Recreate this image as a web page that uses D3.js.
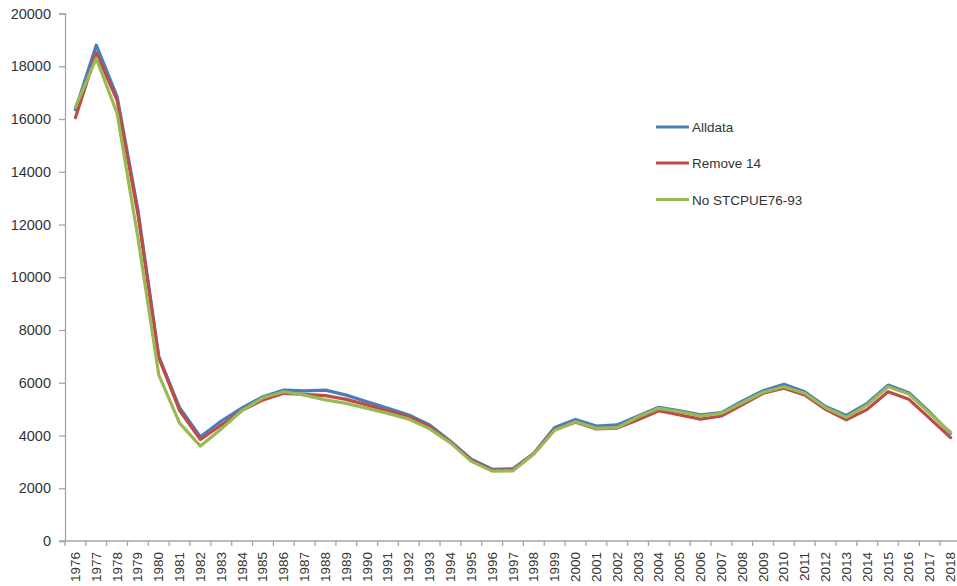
<!DOCTYPE html>
<html>
<head>
<meta charset="utf-8">
<script src="https://cdn.jsdelivr.net/npm/d3@7/dist/d3.min.js"></script>
<style>
  html, body { margin: 0; padding: 0; background: #fff; overflow: hidden; }
  svg { display: block; }
  text { font-family: "Liberation Sans", Arial, sans-serif; fill: #333; }
</style>
</head>
<body>
<svg id="chart" width="957" height="586"></svg>
<script>
// Years on the category axis
const years = d3.range(1976, 2019).map(String);

// Series values, one per year
const alldata = [16350, 18800, 16850, 12550, 7000, 5050, 3950, 4550, 5050, 5470, 5720,
  5690, 5720, 5530, 5280, 5030, 4780, 4400, 3780, 3100, 2720, 2740, 3330, 4300,
  4610, 4360, 4400, 4740, 5070, 4940, 4780, 4870, 5300, 5700, 5940, 5660, 5100,
  4760, 5220, 5910, 5620, 4880, 4080];

const remove14 = [16050, 18510, 16720, 12400, 6950, 4950, 3850, 4400, 4950, 5350, 5600,
  5560, 5510, 5370, 5160, 4930, 4710, 4330, 3750, 3050, 2680, 2700, 3310, 4230,
  4500, 4250, 4280, 4600, 4940, 4780, 4620, 4740, 5160, 5600, 5790, 5540, 4990,
  4590, 4990, 5660, 5370, 4650, 3920];

const noSTCPUE = [16450, 18300, 16220, 11500, 6300, 4470, 3600, 4250, 4950, 5430, 5660,
  5530, 5350, 5220, 5030, 4840, 4620, 4250, 3720, 3020, 2650, 2660, 3300, 4200,
  4520, 4270, 4300, 4700, 5030, 4900, 4740, 4840, 5240, 5640, 5850, 5600, 5050,
  4690, 5160, 5850, 5570, 4840, 4120];

const yTicks = d3.range(0, 20001, 2000);

const series = [
  { name: "Alldata", values: alldata, color: "#4a7ebb" },
  { name: "Remove 14", values: remove14, color: "#be4b48" },
  { name: "No STCPUE76-93", values: noSTCPUE, color: "#98b954" }
];

const svg = d3.select("#chart");
const axisColor = "#a6a6a6";

const x = d3.scaleBand().domain(years).range([65, 961]).padding(0);
const y = d3.scaleLinear().domain([0, 20000]).range([541, 13.5]);

// Y axis
const yAxis = svg.append("g").attr("transform", "translate(65,0)")
  .call(d3.axisLeft(y).tickValues(yTicks).tickSize(6).tickPadding(8).tickFormat(d3.format("d")));
yAxis.select(".domain").attr("stroke", axisColor).attr("stroke-width", 1.3);
yAxis.selectAll(".tick line").attr("stroke", axisColor).attr("stroke-width", 1.3);
yAxis.selectAll(".tick text").style("font-size", "14.5px").attr("fill", "#333");

// X axis: ticks sit on the category boundaries
const xAxis = svg.append("g").attr("transform", "translate(0,541)");
xAxis.append("line")
  .attr("x1", 59).attr("x2", 961).attr("y1", 0).attr("y2", 0)
  .attr("stroke", axisColor).attr("stroke-width", 1.3);
xAxis.selectAll("line.tk").data(years.concat(["end"])).join("line")
  .attr("class", "tk")
  .attr("x1", (d, i) => 65 + i * x.bandwidth())
  .attr("x2", (d, i) => 65 + i * x.bandwidth())
  .attr("y1", 0).attr("y2", 5)
  .attr("stroke", axisColor).attr("stroke-width", 1.3);
xAxis.selectAll("text").data(years).join("text")
  .attr("transform", d => `translate(${x(d) + x.bandwidth() / 2 + 4.5},11) rotate(-90)`)
  .attr("text-anchor", "end")
  .style("font-size", "13.5px")
  .text(d => d);

// Lines
const line = d3.line()
  .x((d, i) => x(years[i]) + x.bandwidth() / 2)
  .y(d => y(d));

svg.append("g").selectAll("path").data(series).join("path")
  .attr("d", s => line(s.values))
  .attr("fill", "none")
  .attr("stroke", s => s.color)
  .attr("stroke-width", 3.2)
  .attr("stroke-linejoin", "round")
  .attr("stroke-linecap", "round");

// Legend
const legend = svg.append("g");
const legendY = [127, 163, 199.5];
series.forEach((s, i) => {
  legend.append("line")
    .attr("x1", 656).attr("x2", 689)
    .attr("y1", legendY[i]).attr("y2", legendY[i])
    .attr("stroke", s.color).attr("stroke-width", 3.2);
  legend.append("text")
    .attr("x", 692).attr("y", legendY[i] + 5)
    .style("font-size", "13.5px")
    .text(s.name);
});
</script>
</body>
</html>
